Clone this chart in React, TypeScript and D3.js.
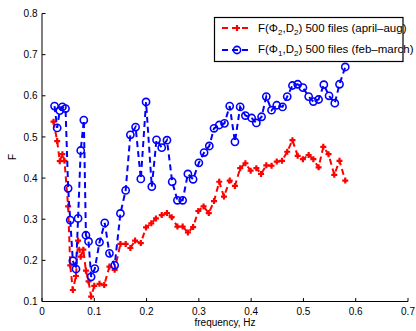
import React from "react";
import * as d3 from "d3";

const redX = [0.022,0.029,0.034,0.039,0.043,0.050,0.054,0.059,0.065,0.069,0.074,0.079,0.084,0.089,0.094,0.100,0.110,0.119,0.129,0.139,0.150,0.160,0.169,0.178,0.189,0.199,0.209,0.218,0.229,0.239,0.248,0.259,0.269,0.279,0.289,0.299,0.309,0.319,0.329,0.339,0.348,0.359,0.369,0.379,0.389,0.399,0.410,0.419,0.429,0.439,0.449,0.459,0.469,0.479,0.489,0.499,0.510,0.519,0.529,0.538,0.548,0.559,0.569,0.580];
const redY = [0.537,0.490,0.441,0.458,0.442,0.331,0.188,0.128,0.162,0.248,0.209,0.226,0.175,0.149,0.112,0.138,0.143,0.140,0.185,0.177,0.240,0.240,0.230,0.248,0.242,0.280,0.290,0.302,0.310,0.315,0.305,0.282,0.282,0.268,0.281,0.320,0.331,0.315,0.344,0.391,0.355,0.394,0.381,0.424,0.436,0.418,0.424,0.410,0.431,0.430,0.440,0.442,0.464,0.492,0.454,0.446,0.456,0.446,0.426,0.476,0.458,0.408,0.442,0.394];

const blueX = [0.024,0.029,0.034,0.039,0.045,0.050,0.054,0.059,0.065,0.069,0.074,0.080,0.084,0.089,0.094,0.101,0.110,0.120,0.129,0.139,0.150,0.160,0.169,0.179,0.189,0.199,0.210,0.219,0.229,0.239,0.249,0.259,0.269,0.279,0.289,0.300,0.310,0.320,0.329,0.339,0.349,0.359,0.369,0.379,0.389,0.401,0.410,0.420,0.429,0.439,0.449,0.460,0.469,0.479,0.489,0.499,0.510,0.519,0.529,0.539,0.549,0.560,0.569,0.580];
const blueY = [0.575,0.522,0.564,0.573,0.569,0.375,0.298,0.199,0.179,0.302,0.467,0.541,0.261,0.246,0.160,0.180,0.244,0.291,0.217,0.188,0.314,0.370,0.505,0.524,0.398,0.585,0.379,0.493,0.474,0.492,0.391,0.346,0.346,0.410,0.397,0.437,0.462,0.478,0.521,0.529,0.533,0.575,0.488,0.573,0.552,0.546,0.534,0.549,0.598,0.565,0.577,0.573,0.598,0.625,0.628,0.620,0.598,0.586,0.591,0.627,0.600,0.582,0.628,0.670];

const xTicks = [0, 0.1, 0.2, 0.3, 0.4, 0.5, 0.6, 0.7];
const yTicks = [0.1, 0.2, 0.3, 0.4, 0.5, 0.6, 0.7, 0.8];

const W = 416, H = 331;
const L = 42, R = 408, T = 13.5, B = 301.5;
const FONT = "Liberation Sans, Arial, sans-serif";

export default function App() {
  const x = d3.scaleLinear().domain([0, 0.7]).range([L, R]);
  const y = d3.scaleLinear().domain([0.1, 0.8]).range([B, T]);
  const red = redX.map((v, i) => [v, redY[i]] as [number, number]);
  const blue = blueX.map((v, i) => [v, blueY[i]] as [number, number]);
  const line = d3.line<[number, number]>().x(d => x(d[0])).y(d => y(d[1]));
  const fmt = (v: number) => (v === 0 ? "0" : d3.format(".1f")(v));

  const plus = (cx: number, cy: number, k: string) => (
    <path key={k} d={`M${cx - 3},${cy}H${cx + 3}M${cx},${cy - 3}V${cy + 3}`} stroke="#ff0000" strokeWidth={2.2} fill="none" />
  );
  const circ = (cx: number, cy: number, k: string) => (
    <circle key={k} cx={cx} cy={cy} r={3.6} stroke="#0000ff" strokeWidth={1.6} fill="none" />
  );

  return (
    <svg width={W} height={H} style={{ position: "absolute", left: 0, top: 0, background: "#fff" }} fontFamily={FONT}>
      <rect width={W} height={H} fill="#fff" />
      {/* axes */}
      <line x1={L} y1={T} x2={L} y2={B} stroke="#000" strokeWidth={1} />
      <line x1={L} y1={B} x2={R} y2={B} stroke="#000" strokeWidth={1} />
      {xTicks.map(t => (
        <g key={"xt" + t}>
          <line x1={x(t)} x2={x(t)} y1={B} y2={B - 3.5} stroke="#000" />
          <text x={x(t)} y={315} textAnchor="middle" fontSize={10} fill="#000">{fmt(t)}</text>
        </g>
      ))}
      {yTicks.map(t => (
        <g key={"yt" + t}>
          <line x1={L} x2={L + 3.5} y1={y(t)} y2={y(t)} stroke="#000" />
          <text x={37.5} y={y(t) + 3.6} textAnchor="end" fontSize={10} fill="#000">{fmt(t)}</text>
        </g>
      ))}
      <text x={225} y={325.5} textAnchor="middle" fontSize={10} fill="#000">frequency, Hz</text>
      <text transform={`translate(15.5,157) rotate(-90)`} textAnchor="middle" fontSize={10} fill="#000">F</text>

      {/* red series */}
      <path d={line(red) || ""} fill="none" stroke="#ff0000" strokeWidth={2} strokeDasharray="6,4" />
      {red.map((d, i) => plus(x(d[0]), y(d[1]), "r" + i))}
      {/* blue series */}
      <path d={line(blue) || ""} fill="none" stroke="#0000ff" strokeWidth={2} strokeDasharray="6,4" />
      {blue.map((d, i) => circ(x(d[0]), y(d[1]), "b" + i))}

      {/* legend */}
      <rect x={214.5} y={17.5} width={188.5} height={44} fill="#fff" stroke="#000" strokeWidth={1.2} />
      <line x1={222} x2={252} y1={28} y2={28} stroke="#ff0000" strokeWidth={2} strokeDasharray="6,4" />
      {plus(237, 28, "lp")}
      <line x1={222} x2={252} y1={50} y2={50} stroke="#0000ff" strokeWidth={2} strokeDasharray="6,4" />
      {circ(237, 50, "lc")}
      <text x={258} y={31.7} fontSize={11.5} fill="#000">
        F(Φ<tspan fontSize={8} dy={3}>2</tspan><tspan dy={-3}>,D</tspan><tspan fontSize={8} dy={3}>2</tspan><tspan dy={-3}>) 500 files (april–aug)</tspan>
      </text>
      <text x={258} y={53.3} fontSize={11.5} fill="#000">
        F(Φ<tspan fontSize={8} dy={3}>1</tspan><tspan dy={-3}>,D</tspan><tspan fontSize={8} dy={3}>2</tspan><tspan dy={-3}>) 500 files (feb–march)</tspan>
      </text>
    </svg>
  );
}
